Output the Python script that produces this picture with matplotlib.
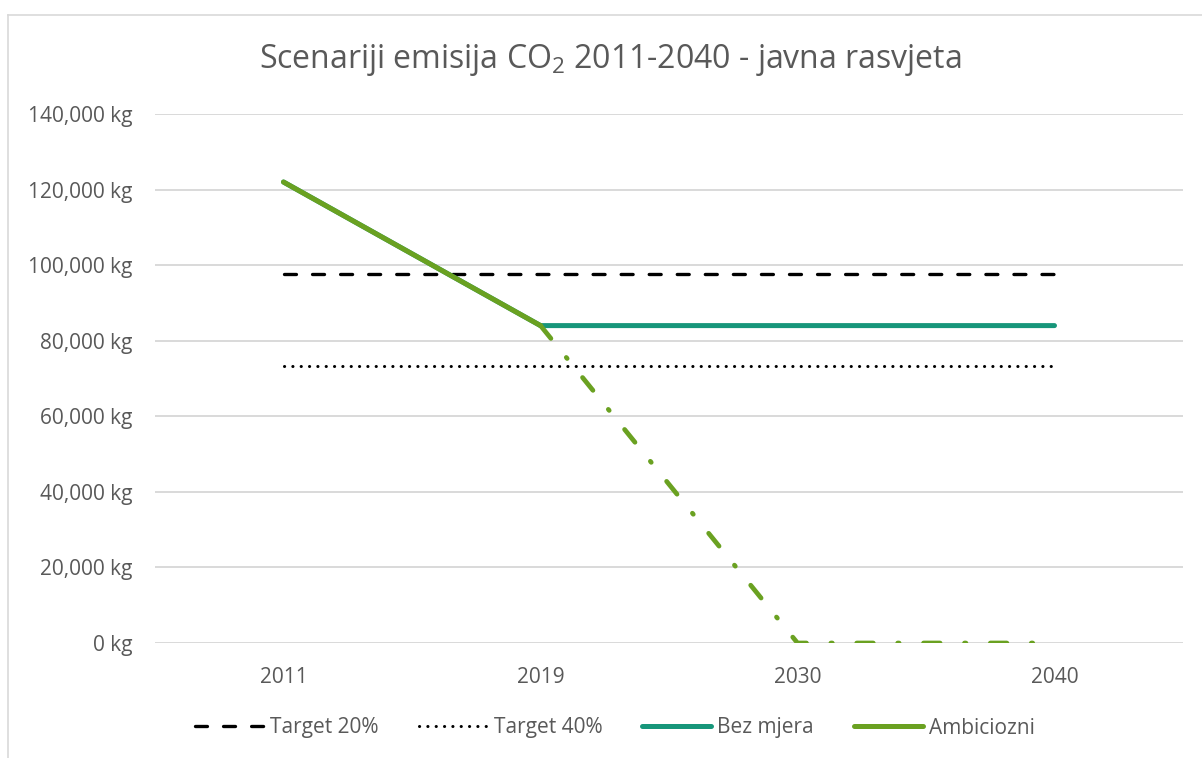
import matplotlib
matplotlib.use("Agg")
import matplotlib.pyplot as plt
from matplotlib.lines import Line2D
from matplotlib.ticker import FuncFormatter

plt.rcParams["font.family"] = ["Open Sans", "DejaVu Sans"]
plt.rcParams["mathtext.fontset"] = "custom"
plt.rcParams["mathtext.rm"] = "Open Sans"
plt.rcParams["mathtext.it"] = "Open Sans"
plt.rcParams["mathtext.bf"] = "Open Sans"
plt.rcParams["lines.scale_dashes"] = False

TXT = "#595959"
GRID = "#d9d9d9"
TEAL = "#17967a"
GREEN = "#6aa121"

years = ["2011", "2019", "2030", "2040"]
target_20 = [97600, 97600, 97600, 97600]
target_40 = [73200, 73200, 73200, 73200]
bez_mjera = [122000, 84000, 84000, 84000]
ambiciozni = [122000, 84000, 0, 0]
yticks = [0, 20000, 40000, 60000, 80000, 100000, 120000, 140000]

W, H = 1202, 758
fig = plt.figure(figsize=(W / 100, H / 100), dpi=100)
ax = fig.add_axes([155 / W, 1 - 643 / H, (1183 - 155) / W, (643 - 114) / H])

x = list(range(len(years)))

ax.plot(x, target_20, color="black", lw=2.4, ls=(0, (8.6, 11.6)),
        dash_capstyle="round", label="Target 20%")
ax.plot(x, target_40, color="black", lw=2.2, ls=(0, (0.1, 5.9)),
        dash_capstyle="round", label="Target 40%")
ax.plot(x, bez_mjera, color=TEAL, lw=3.6, solid_capstyle="round", label="Bez mjera")
# Ambiciozni: solid up to 2019, long dash-dot afterwards
ax.plot(x[:2], ambiciozni[:2], color=GREEN, lw=3.6, solid_capstyle="round",
        label="Ambiciozni")
ax.plot(x[1:], ambiciozni[1:], color=GREEN, lw=3.4,
        ls=(0, (11.9, 17.6, 1.0, 17.6)), dash_capstyle="round")

ax.set_xlim(-0.5, 3.5)
ax.set_ylim(0, 140000)
ax.set_xticks(x)
ax.set_xticklabels(years)
ax.set_yticks(yticks)
ax.yaxis.set_major_formatter(FuncFormatter(lambda v, p: f"{int(v):,} kg"))
ax.tick_params(axis="y", length=0, pad=16, labelsize=15, labelcolor=TXT)
ax.tick_params(axis="x", length=0, pad=17, labelsize=15, labelcolor=TXT)
ax.grid(axis="y", color=GRID, lw=1.4)
ax.set_axisbelow(True)
for s in ax.spines.values():
    s.set_visible(False)

fig.text(610 / W, 1 - 60 / H, "Scenariji emisija CO$_2$ 2011-2040 - javna rasvjeta",
         ha="center", va="center", fontsize=23, color=TXT)

fig.legend(loc="center", bbox_to_anchor=(615 / W, 1 - 728 / H), ncol=4, frameon=False,
           fontsize=15, labelcolor=TXT, handlelength=3.3, handletextpad=0.3,
           columnspacing=1.92)

# chart area border
fig.add_artist(Line2D([8 / W, 8 / W], [0, 1 - 15 / H], color=GRID, lw=1.2))
fig.add_artist(Line2D([8 / W, 1], [1 - 15 / H, 1 - 15 / H], color=GRID, lw=1.2))

fig.savefig("out.png", dpi=100)
